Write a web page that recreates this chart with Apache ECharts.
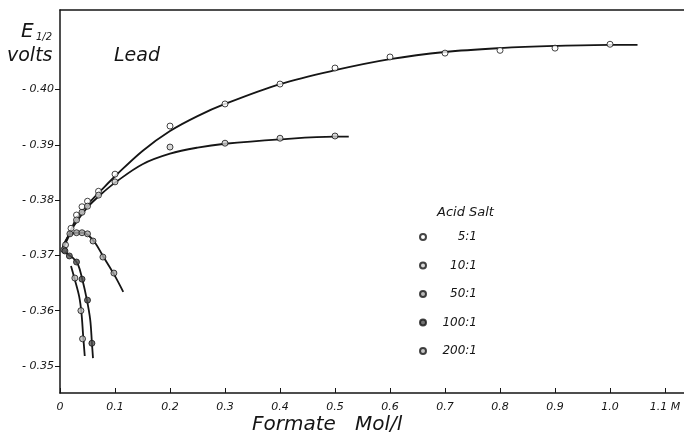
<!DOCTYPE html>
<html>
<head>
<meta charset="utf-8">
<script src="https://cdn.jsdelivr.net/npm/echarts@6/dist/echarts.min.js"></script>
<style>
  html, body { margin: 0; padding: 0; background: #fff; }
  #chart { width: 684px; height: 442px; }
</style>
</head>
<body>
<div id="chart"></div>
<script>
// tick labels
const xTicks = [0, 0.1, 0.2, 0.3, 0.4, 0.5, 0.6, 0.7, 0.8, 0.9, 1.0, 1.1]
const yTicks = [-0.40, -0.39, -0.38, -0.37, -0.36, -0.35]
const ratios = ['5:1', '10:1', '50:1', '100:1', '200:1']

// measured points [formate mol/l, E1/2 volts]
const pts5 = [[0.02, -0.3749], [0.03, -0.3773], [0.04, -0.3788], [0.05, -0.3798], [0.07, -0.3816], [0.1, -0.3847],
  [0.2, -0.3934], [0.3, -0.3974], [0.4, -0.4010], [0.5, -0.4039], [0.6, -0.4059], [0.7, -0.4066],
  [0.8, -0.4071], [0.9, -0.4075], [1.0, -0.4082]]
const pts10 = [[0.01, -0.3719], [0.03, -0.3764], [0.04, -0.3778], [0.05, -0.3789], [0.07, -0.3809], [0.1, -0.3833],
  [0.2, -0.3896], [0.3, -0.3903], [0.4, -0.3912], [0.5, -0.3916]]
const pts50 = [[0.007, -0.3710], [0.018, -0.3739], [0.03, -0.3741], [0.04, -0.3741], [0.05, -0.3739],
  [0.06, -0.3726], [0.078, -0.3697], [0.098, -0.3668]]
const pts100 = [[0.009, -0.3708], [0.017, -0.3699], [0.03, -0.3688], [0.04, -0.3657], [0.05, -0.3619], [0.058, -0.3541]]
const pts200 = [[0.027, -0.3659], [0.038, -0.3600], [0.041, -0.3549]]

// drawn curves
const curve5 = [[0.005, -0.3715], [0.013, -0.3731], [0.022, -0.3751], [0.031, -0.3769], [0.051, -0.3793], [0.075, -0.3818],
  [0.102, -0.3845], [0.15, -0.3889], [0.2, -0.3925], [0.25, -0.3952], [0.3, -0.3974], [0.4, -0.4010], [0.5, -0.4035],
  [0.6, -0.4055], [0.7, -0.4068], [0.8, -0.4075], [0.9, -0.4079], [1.0, -0.4081], [1.05, -0.4081]]
const curve10 = [[0.005, -0.3713], [0.013, -0.3728], [0.022, -0.3748], [0.031, -0.3762], [0.051, -0.3788], [0.075, -0.3811],
  [0.102, -0.3833], [0.15, -0.3865], [0.2, -0.3884], [0.25, -0.3895], [0.3, -0.3902], [0.4, -0.3910], [0.5, -0.3915],
  [0.525, -0.3915]]
const curve50 = [[0.004, -0.3710], [0.009, -0.3724], [0.016, -0.3735], [0.029, -0.3741], [0.042, -0.3741], [0.053, -0.3735],
  [0.065, -0.3721], [0.078, -0.3699], [0.098, -0.3666], [0.115, -0.3634]]
const curve100 = [[0.004, -0.3712], [0.013, -0.3703], [0.024, -0.3695], [0.033, -0.3683], [0.04, -0.3659], [0.049, -0.3619],
  [0.055, -0.3583], [0.058, -0.3542], [0.06, -0.3514]]
const curve200 = [[0.02, -0.3681], [0.027, -0.3656], [0.035, -0.3625], [0.039, -0.3596], [0.042, -0.3556], [0.045, -0.3518]]

const ink = '#151515'
const font = 'DejaVu Sans'
const fills = ['#ffffff', '#d0d0d0', '#a8a8a8', '#505050', '#b8b8b8']

const pointSets = [pts5, pts10, pts50, pts100, pts200]
const curveSets = [curve5, curve10, curve50, curve100, curve200]

const series = []
curveSets.forEach((c, i) => {
  series.push({
    type: 'line', name: 'curve' + i, data: c, smooth: 0.35, showSymbol: false, silent: true,
    lineStyle: { color: ink, width: 1.8 }, z: 2
  })
})
pointSets.forEach((p, i) => {
  series.push({
    type: 'scatter', name: ratios[i], data: p, symbol: 'circle', symbolSize: 6,
    itemStyle: { color: fills[i], borderColor: ink, borderWidth: 1 }, z: 3
  })
})

const chart = echarts.init(document.getElementById('chart'))
chart.setOption({
  backgroundColor: '#fff',
  animation: false,
  grid: { left: 60, right: 0, top: 10, bottom: 49 },
  xAxis: [{
    type: 'value', min: 0, max: 1.1345,
    axisLine: { lineStyle: { color: ink, width: 1.5 } },
    axisTick: { inside: true, length: 5, customValues: xTicks, lineStyle: { color: ink } },
    axisLabel: {
      customValues: xTicks, color: ink, fontFamily: font, fontStyle: 'italic', fontSize: 11, margin: 9,
      formatter: v => v === 0 ? '0' : (Math.abs(v - 1.1) < 1e-6 ? '1.1 M' : v.toFixed(1))
    },
    splitLine: { show: false }
  }, {
    type: 'value', position: 'top', min: 0, max: 1.1345,
    axisLine: { show: true, lineStyle: { color: ink, width: 1.5 } },
    axisTick: { show: false }, axisLabel: { show: false }, splitLine: { show: false }
  }],
  yAxis: {
    type: 'value', inverse: true, min: -0.4144, max: -0.3451,
    axisLine: { show: true, lineStyle: { color: ink, width: 1.5 } },
    axisTick: { show: true, length: 5, customValues: yTicks, lineStyle: { color: ink } },
    axisLabel: {
      customValues: yTicks, color: ink, fontFamily: font, fontStyle: 'italic', fontSize: 11, margin: 6,
      formatter: v => '- ' + Math.abs(v).toFixed(2)
    },
    splitLine: { show: false }
  },
  legend: {
    data: ratios, orient: 'vertical', left: 414, top: 226, itemWidth: 6, itemHeight: 6, itemGap: 16.5,
    icon: 'circle', selectedMode: false,
    formatter: '{a|{name}}',
    textStyle: {
      rich: { a: { width: 46, align: 'right', fontFamily: font, fontStyle: 'italic', fontSize: 12, color: ink } }
    }
  },
  graphic: [
    { type: 'text', left: 21, top: 22, style: { text: 'E', font: 'italic 20px "DejaVu Sans"', fill: ink } },
    { type: 'text', left: 36, top: 32, style: { text: '1/2', font: 'italic 10px "DejaVu Sans"', fill: ink } },
    { type: 'text', left: 7, top: 47, style: { text: 'volts', font: 'italic 19px "DejaVu Sans"', fill: ink } },
    { type: 'text', left: 114, top: 47, style: { text: 'Lead', font: 'italic 19px "DejaVu Sans"', fill: ink } },
    { type: 'text', left: 437, top: 206, style: { text: 'Acid Salt', font: 'italic 13px "DejaVu Sans"', fill: ink } },
    { type: 'text', left: 252, top: 415, style: { text: 'Formate   Mol/l', font: 'italic 20px "DejaVu Sans"', fill: ink } }
  ],
  series: series
})
</script>
</body>
</html>
